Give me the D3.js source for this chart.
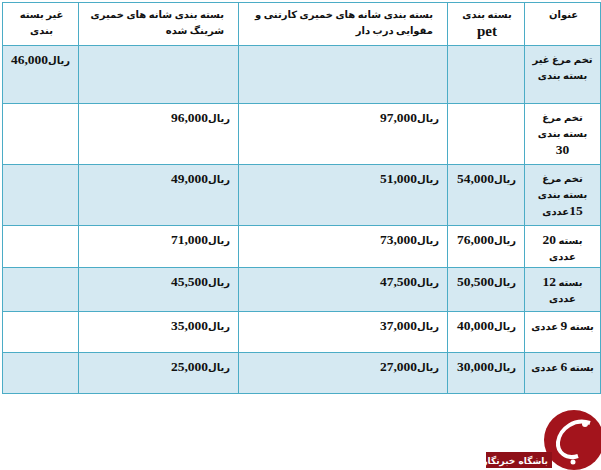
<!DOCTYPE html>
<html><head><meta charset="utf-8">
<script src="https://cdn.jsdelivr.net/npm/d3@7"></script>
<style>
body{margin:0;background:#fff;}
#wrap{position:relative;width:601px;height:470px;}
table{position:absolute;left:2px;top:2px;border-collapse:collapse;direction:rtl;table-layout:fixed;
 font-family:"Liberation Serif","DejaVu Sans",serif;font-weight:bold;font-size:10px;color:#111;}
td{border:1px solid #4bacc6;vertical-align:top;padding:0;}
td > div{overflow:hidden;line-height:16px;padding:6px 6px 0 6px;box-sizing:border-box;}
td.c > div{text-align:center;}
td.r > div{text-align:right;}
.n{font-size:13.5px;font-family:"Liberation Serif",serif;}
.p{direction:ltr;display:inline-flex;align-items:baseline;}
svg{position:absolute;left:0;top:0;}
</style></head><body><div id="wrap"></div>
<script>
// columns, right-to-left
var headers = ["عنوان", "بسته بندی pet", "بسته بندی شانه های خمیری کارتنی و مقوایی درب دار", "بسته بندی شانه های خمیری شرینگ شده", "غیر بسته بندی"];
var rowTitles = ["تخم مرغ غیر بسته بندی", "تخم مرغ بسته بندی 30", "تخم مرغ بسته بندی 15عددی", "بسته 20 عددی", "بسته 12 عددی", "بسته 9 عددی", "بسته 6 عددی"];
var petPrices    = [null, null, 54000, 76000, 50500, 40000, 30000];
var cartonPrices = [null, 97000, 51000, 73000, 47500, 37000, 27000];
var shrinkPrices = [null, 96000, 49000, 71000, 45500, 35000, 25000];
var loosePrices  = [46000, null, null, null, null, null, null];

var colWidths = [76, 77, 209, 160, 76];
var rowHeights = [43, 58, 61, 61, 42, 44, 41, 41];

var fmt = d3.format(",");
var price = function(v){ return v == null ? "" : "<span class='p'><span class='n'>" + fmt(v) + "</span><span>ریال</span></span>"; };
var numify = function(s){ return s.replace(/(\d+)/g, "<span class='n'>$1</span>"); };

var wrap = d3.select("#wrap");
var table = wrap.append("table").style("width", d3.sum(colWidths) + "px");
var colgroup = table.append("colgroup");
colgroup.selectAll("col").data(colWidths).enter().append("col").style("width", function(d){ return d + "px"; });

var head = table.append("tr");
head.selectAll("td").data(headers).enter().append("td")
	.attr("class", function(d, i){ return (i == 2 || i == 3) ? "r" : "c"; })
	.append("div")
	.style("height", (rowHeights[0] - 1) + "px")
	.style("padding-top", "4px")
	.style("padding-right", function(d, i){ return (i == 2 || i == 3) ? "14px" : "4px"; })
	.html(function(d, i){
		if (i == 1) return "بسته بندی<br><span class='n' style='font-size:15px'>pet</span>";
		if (i == 2) return "<span style='white-space:nowrap'>بسته بندی شانه های خمیری کارتنی و</span><br>مقوایی درب دار";
		if (i == 3) return "<span style='white-space:nowrap'>بسته بندی شانه های خمیری</span><br>شرینگ شده";
		if (i == 4) return "غیر بسته<br>بندی";
		return d;
	});

var titleHtml = ["تخم مرغ غیر<br>بسته بندی", "تخم مرغ<br>بسته بندی<br>30", "تخم مرغ<br>بسته بندی<br>15عددی", "بسته 20<br>عددی", "بسته 12<br>عددی", "بسته 9 عددی", "بسته 6 عددی"];

var rows = rowTitles.map(function(t, i){
	return [numify(titleHtml[i]), price(petPrices[i]), price(cartonPrices[i]), price(shrinkPrices[i]), price(loosePrices[i])];
});

var tr = table.selectAll("tr.d").data(rows).enter().append("tr")
	.attr("class", "d")
	.style("background", function(d, i){ return i % 2 == 0 ? "#d5e9f2" : "#fff"; });

tr.selectAll("td").data(function(d, ri){ return d.map(function(v){ return {v: v, h: rowHeights[ri + 1]}; }); })
	.enter().append("td")
	.attr("class", function(d, i){ return i == 0 ? "c" : "r"; })
	.append("div")
	.style("height", function(d){ return (d.h - 1) + "px"; })
	.style("padding-right", function(d, i){ return i == 0 ? "3px" : "8px"; })
	.style("padding-left", function(d, i){ return i == 0 ? "3px" : "6px"; })
	.html(function(d){ return d.v; });

// logo
var svg = wrap.append("svg").attr("width", 601).attr("height", 470);
svg.append("circle").attr("cx", 574).attr("cy", 440).attr("r", 30).attr("fill", "#a3141c");
svg.append("path").attr("d", "M590,423 C575,418 560,428 558,442 C557,452 566,460 578,456")
	.attr("fill", "none").attr("stroke", "#fff").attr("stroke-width", 4);
svg.append("circle").attr("cx", 585).attr("cy", 424).attr("r", 3).attr("fill", "#fff");
svg.append("circle").attr("cx", 573).attr("cy", 462).attr("r", 2.5).attr("fill", "#fff");
svg.append("rect").attr("x", 486).attr("y", 452).attr("width", 66).attr("height", 16).attr("fill", "#8e1018");
svg.append("text").attr("x", 548).attr("y", 464).attr("text-anchor", "end")
	.attr("fill", "#fff").attr("font-size", 9).attr("font-weight", "bold")
	.attr("font-family", "DejaVu Sans").text("باشگاه خبرنگاران");
</script></body></html>
